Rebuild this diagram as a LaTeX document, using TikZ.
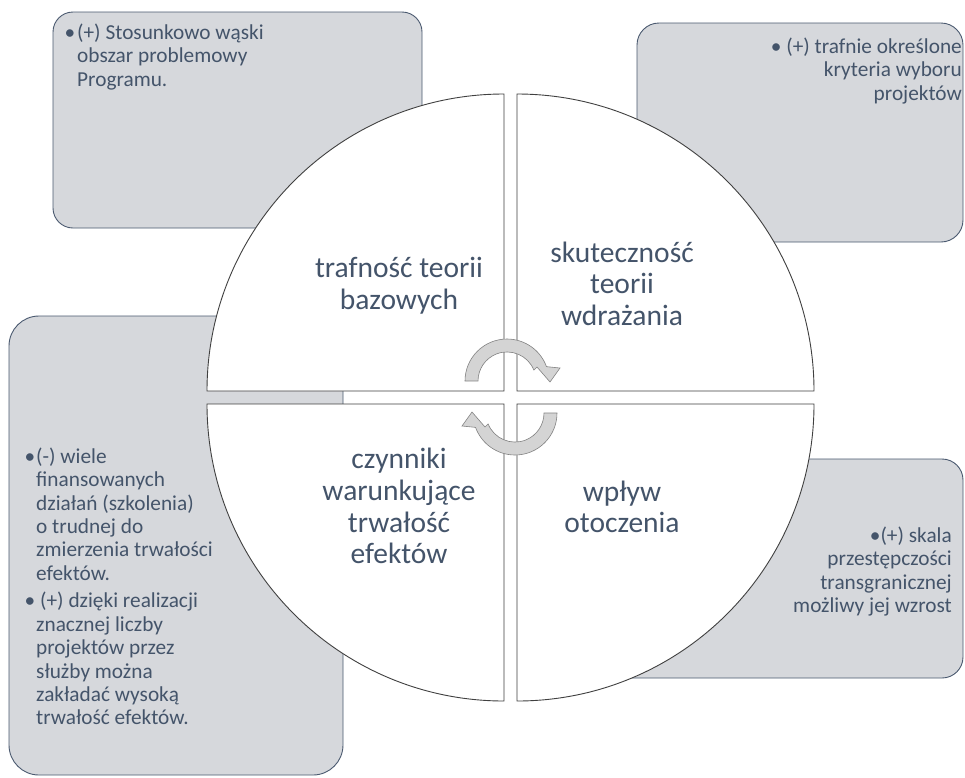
\documentclass[tikz,border=0pt]{standalone}
\usepackage{fontspec}
\setmainfont{Carlito}
\definecolor{boxfill}{RGB}{214,216,220}
\definecolor{boxline}{RGB}{75,90,112}
\definecolor{txt}{RGB}{68,84,106}
\definecolor{qline}{RGB}{64,64,64}
\definecolor{arrfill}{RGB}{212,212,212}
\definecolor{arrline}{RGB}{130,130,130}
\begin{document}
\begin{tikzpicture}[x=1pt,y=-1pt,
  infobox/.style={fill=boxfill,draw=boxline,line width=0.9pt},
  quad/.style={fill=white,draw=qline,line width=0.9pt},
  cyc/.style={fill=arrfill,draw=arrline,line width=0.6pt},
  boxtext/.style={inner sep=0pt,text=txt,font=\fontsize{21.3pt}{23.4pt}\selectfont},
  quadtext/.style={inner sep=0pt,text=txt,font=\fontsize{29.5pt}{31.7pt}\selectfont}]
\useasboundingbox (0,0) rectangle (965,777);
\fill[white] (0,0) rectangle (965,777);
% info boxes
\draw[infobox, rounded corners=20pt] (53,12) rectangle (422,228);
\draw[infobox, rounded corners=22pt] (637,23) rectangle (963,242);
\draw[infobox, rounded corners=30pt] (9,316) rectangle (343,775);
\draw[infobox, rounded corners=21pt] (600,459) rectangle (963,678);
% quadrants
\draw[quad] (504,391) -- (207,391) arc[start angle=180,end angle=270,radius=297] -- cycle;
\draw[quad] (517,391) -- (517,94) arc[start angle=270,end angle=360,radius=297] -- cycle;
\draw[quad] (517,404) -- (814,404) arc[start angle=0,end angle=90,radius=297] -- cycle;
\draw[quad] (504,404) -- (504,701) arc[start angle=90,end angle=180,radius=297] -- cycle;
% cycle arrows
\begin{scope}[shift={(507,381)}]
\draw[cyc] (-42,0) arc[start angle=180,end angle=340,radius=42] -- (53,-13) -- (43,1) -- (30,-14) -- (26.9,-10.9) arc[start angle=338,end angle=180,radius=29] -- cycle;
\end{scope}
\begin{scope}[shift={(515,413)},rotate=180]
\draw[cyc] (-42,0) arc[start angle=180,end angle=340,radius=42] -- (53,-13) -- (43,1) -- (30,-14) -- (26.9,-10.9) arc[start angle=338,end angle=180,radius=29] -- cycle;
\end{scope}
% quadrant texts
\node[quadtext, anchor=base] (q1) at (399,277.8) {\begin{tabular}[t]{@{}c@{}}trafność teorii\\bazowych\end{tabular}};
\node[quadtext, anchor=base] (q2) at (622,262) {\begin{tabular}[t]{@{}c@{}}skuteczność\\teorii\\wdrażania\end{tabular}};
\node[quadtext, anchor=base] (q3) at (399,468.8) {\begin{tabular}[t]{@{}c@{}}czynniki\\warunkujące\\trwałość\\efektów\end{tabular}};
\node[quadtext, anchor=base] (q4) at (622,501) {\begin{tabular}[t]{@{}c@{}}wpływ\\otoczenia\end{tabular}};
% box texts
\node[boxtext, anchor=base west] (t1) at (77,39.5) {\begin{tabular}[t]{@{}l@{}}\llap{•\hskip2pt}(+) Stosunkowo wąski\\obszar problemowy\\Programu.\end{tabular}};
\node[boxtext, anchor=base east] (t2) at (962,53.3) {\begin{tabular}[t]{@{}r@{}}• (+) trafnie określone\\kryteria wyboru\\projektów\end{tabular}};
\node[boxtext, anchor=base west] (t3) at (36,463.3) {\begin{tabular}[t]{@{}l@{}}\llap{•\hskip1pt}(-) wiele\\finansowanych\\działań (szkolenia)\\o trudnej do\\zmierzenia trwałości\\efektów.\\[4.2pt]\llap{•\hskip1pt}\hskip4pt(+) dzięki realizacji\\znacznej liczby\\projektów przez\\służby można\\zakładać wysoką\\trwałość efektów.\end{tabular}};
\node[boxtext, anchor=base east] (t4) at (952,542.3) {\begin{tabular}[t]{@{}r@{}}•(+) skala\\przestępczości\\transgranicznej\\możliwy jej wzrost\end{tabular}};
\end{tikzpicture}
\end{document}
